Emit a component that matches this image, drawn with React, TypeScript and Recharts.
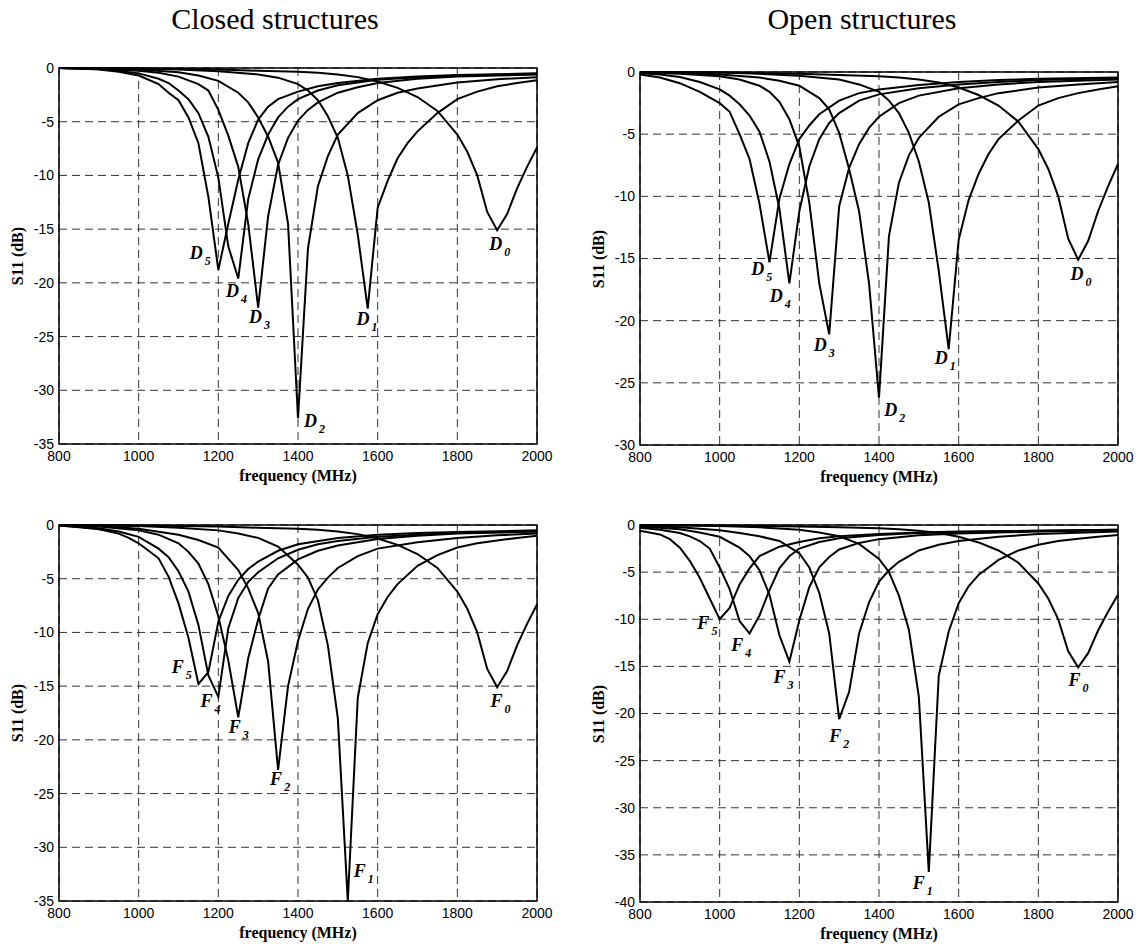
import React from "react";
import {
  LineChart,
  Line,
  XAxis,
  YAxis,
  CartesianGrid,
  ReferenceArea,
  ReferenceDot,
} from "recharts";

// frequency (MHz), S11 (dB)
const refD0 = [[800,0],[1000,-0.05],[1200,-0.15],[1300,-0.25],[1400,-0.35],[1450,-0.45],[1500,-0.6],[1550,-0.85],[1600,-1.25],[1650,-1.85],[1700,-2.7],[1750,-4.0],[1800,-6.2],[1825,-7.8],[1850,-10.0],[1875,-13.4],[1900,-15.1],[1925,-13.6],[1950,-11.2],[1975,-9.2],[2000,-7.4]];

const closedD1 = [[800,0],[1000,-0.05],[1100,-0.15],[1200,-0.3],[1300,-0.6],[1350,-0.9],[1400,-1.5],[1425,-2.1],[1450,-3.0],[1475,-4.5],[1500,-6.5],[1525,-10.0],[1550,-15.5],[1575,-22.4],[1600,-13.0],[1625,-10.5],[1650,-8.4],[1675,-7.0],[1700,-5.9],[1750,-4.2],[1800,-2.9],[1850,-2.2],[1900,-1.7],[1950,-1.4],[2000,-1.15]];
const closedD2 = [[800,0],[900,-0.05],[1000,-0.15],[1100,-0.4],[1150,-0.7],[1200,-1.2],[1250,-2.3],[1275,-3.2],[1300,-4.6],[1325,-6.4],[1350,-8.8],[1375,-14.5],[1400,-32.6],[1425,-16.8],[1450,-11.0],[1475,-8.2],[1500,-6.2],[1550,-4.2],[1600,-3.0],[1650,-2.3],[1700,-1.9],[1800,-1.35],[1900,-1.05],[2000,-0.85]];
const closedD3 = [[800,0],[900,-0.1],[1000,-0.25],[1050,-0.45],[1100,-0.8],[1150,-1.5],[1175,-2.1],[1200,-3.9],[1225,-6.3],[1250,-9.2],[1275,-14.5],[1300,-22.3],[1325,-13.8],[1350,-9.0],[1375,-6.5],[1400,-4.9],[1425,-3.9],[1450,-3.2],[1500,-2.3],[1550,-1.8],[1600,-1.4],[1700,-1.0],[1800,-0.8],[2000,-0.6]];
const closedD4 = [[800,0],[900,-0.1],[950,-0.25],[1000,-0.5],[1050,-1.0],[1075,-1.4],[1100,-2.1],[1125,-2.9],[1150,-4.2],[1175,-6.4],[1200,-10.2],[1225,-16.6],[1250,-19.6],[1275,-12.2],[1300,-8.5],[1325,-6.2],[1350,-4.6],[1375,-3.6],[1400,-2.9],[1450,-2.1],[1500,-1.6],[1600,-1.1],[1700,-0.85],[1800,-0.7],[2000,-0.55]];
const closedD5 = [[800,0],[850,-0.05],[900,-0.15],[950,-0.35],[1000,-0.7],[1050,-1.5],[1075,-2.3],[1100,-3.0],[1125,-4.6],[1150,-7.0],[1175,-12.0],[1200,-18.8],[1225,-14.5],[1250,-10.4],[1275,-7.0],[1300,-4.8],[1325,-3.6],[1350,-2.9],[1400,-2.2],[1450,-1.7],[1500,-1.4],[1600,-1.0],[1700,-0.8],[1800,-0.65],[2000,-0.5]];

const openD1 = [[800,0],[1000,-0.05],[1100,-0.15],[1200,-0.3],[1300,-0.6],[1350,-1.0],[1400,-1.6],[1425,-2.3],[1450,-3.3],[1475,-4.9],[1500,-7.2],[1525,-10.5],[1550,-16.0],[1575,-22.3],[1600,-13.5],[1625,-10.3],[1650,-8.2],[1675,-6.6],[1700,-5.4],[1750,-3.9],[1800,-2.7],[1850,-2.1],[1900,-1.7],[1950,-1.4],[2000,-1.15]];
const openD2 = [[800,0],[900,-0.05],[1000,-0.2],[1100,-0.45],[1150,-0.7],[1200,-1.1],[1250,-2.1],[1275,-3.0],[1300,-4.9],[1325,-7.8],[1350,-11.2],[1375,-17.0],[1400,-26.2],[1425,-13.2],[1450,-8.9],[1475,-6.7],[1500,-5.3],[1550,-3.6],[1600,-2.6],[1650,-2.1],[1700,-1.7],[1800,-1.25],[1900,-1.0],[2000,-0.8]];
const openD3 = [[800,-0.05],[900,-0.15],[1000,-0.35],[1050,-0.6],[1100,-1.1],[1125,-1.6],[1150,-2.4],[1175,-3.8],[1200,-6.0],[1225,-10.5],[1250,-17.0],[1275,-21.1],[1300,-10.8],[1325,-7.7],[1350,-5.8],[1375,-4.5],[1400,-3.6],[1450,-2.5],[1500,-1.9],[1600,-1.3],[1700,-1.0],[1800,-0.8],[2000,-0.6]];
const openD4 = [[800,-0.1],[850,-0.2],[900,-0.4],[950,-0.8],[1000,-1.4],[1025,-1.9],[1050,-2.6],[1075,-3.5],[1100,-4.8],[1125,-7.2],[1150,-11.0],[1175,-17.0],[1200,-11.2],[1225,-7.6],[1250,-5.4],[1275,-4.1],[1300,-3.3],[1350,-2.3],[1400,-1.8],[1500,-1.3],[1600,-1.0],[1700,-0.8],[1800,-0.65],[2000,-0.5]];
const openD5 = [[800,-0.2],[850,-0.45],[900,-0.9],[950,-1.6],[1000,-2.5],[1025,-3.2],[1050,-5.0],[1075,-7.0],[1100,-10.6],[1125,-15.3],[1150,-10.2],[1175,-7.4],[1200,-5.4],[1225,-4.3],[1250,-3.4],[1300,-2.3],[1350,-1.7],[1400,-1.4],[1500,-1.05],[1600,-0.8],[1700,-0.65],[1800,-0.55],[2000,-0.45]];

const closedF1 = [[800,0],[1000,-0.1],[1100,-0.25],[1200,-0.5],[1250,-0.8],[1300,-1.2],[1350,-2.0],[1400,-3.7],[1425,-4.9],[1450,-7.0],[1475,-11.2],[1500,-18.0],[1525,-35.0],[1550,-16.1],[1575,-11.0],[1600,-8.3],[1625,-6.7],[1650,-5.5],[1700,-3.8],[1750,-2.8],[1800,-2.1],[1850,-1.7],[1900,-1.45],[1950,-1.2],[2000,-1.0]];
const closedF2 = [[800,0],[900,-0.1],[1000,-0.35],[1100,-0.9],[1150,-1.4],[1200,-2.1],[1250,-4.2],[1275,-5.9],[1300,-8.2],[1325,-12.7],[1350,-22.8],[1375,-15.0],[1400,-10.8],[1425,-7.8],[1450,-6.0],[1475,-4.9],[1500,-4.0],[1550,-2.9],[1600,-2.2],[1700,-1.6],[1800,-1.2],[1900,-0.95],[2000,-0.8]];
const closedF3 = [[800,0],[900,-0.15],[1000,-0.5],[1050,-0.9],[1100,-1.7],[1125,-2.5],[1150,-3.6],[1175,-5.5],[1200,-8.5],[1225,-12.6],[1250,-17.9],[1275,-12.4],[1300,-8.8],[1325,-5.9],[1350,-4.6],[1400,-3.2],[1450,-2.4],[1500,-1.9],[1600,-1.3],[1700,-1.0],[1800,-0.8],[2000,-0.6]];
const closedF4 = [[800,-0.05],[900,-0.3],[950,-0.6],[1000,-1.1],[1050,-2.2],[1075,-3.0],[1100,-4.3],[1125,-6.2],[1150,-9.3],[1175,-14.0],[1200,-16.0],[1225,-9.6],[1250,-6.8],[1275,-5.3],[1300,-4.4],[1350,-3.1],[1400,-2.3],[1450,-1.8],[1500,-1.5],[1600,-1.1],[1700,-0.9],[1800,-0.75],[2000,-0.6]];
const closedF5 = [[800,-0.05],[850,-0.2],[900,-0.4],[950,-0.8],[975,-1.2],[1000,-1.7],[1025,-2.4],[1050,-3.1],[1075,-4.8],[1100,-7.3],[1125,-10.5],[1150,-14.8],[1175,-13.7],[1200,-9.0],[1225,-6.6],[1250,-5.1],[1275,-4.1],[1300,-3.4],[1350,-2.4],[1400,-1.8],[1500,-1.2],[1600,-0.9],[1700,-0.75],[1800,-0.65],[2000,-0.5]];

const openF1 = [[800,0],[1000,-0.1],[1100,-0.25],[1200,-0.5],[1250,-0.8],[1300,-1.2],[1350,-2.0],[1400,-3.6],[1425,-5.0],[1450,-7.5],[1475,-11.1],[1500,-18.2],[1525,-36.8],[1550,-16.0],[1575,-11.3],[1600,-8.3],[1625,-6.5],[1650,-5.3],[1700,-3.7],[1750,-2.7],[1800,-2.1],[1850,-1.7],[1900,-1.45],[1950,-1.25],[2000,-1.05]];
const openF2 = [[800,-0.1],[900,-0.25],[1000,-0.55],[1050,-0.85],[1100,-1.2],[1150,-1.7],[1200,-3.0],[1225,-4.5],[1250,-7.2],[1275,-11.5],[1300,-20.6],[1325,-17.7],[1350,-11.5],[1375,-8.2],[1400,-6.0],[1425,-4.8],[1450,-3.9],[1500,-2.7],[1550,-2.1],[1600,-1.7],[1700,-1.25],[1800,-0.95],[2000,-0.7]];
const openF3 = [[800,-0.15],[900,-0.45],[950,-0.8],[1000,-1.25],[1050,-2.4],[1075,-3.3],[1100,-4.8],[1125,-7.4],[1150,-11.7],[1175,-14.5],[1200,-10.1],[1225,-6.6],[1250,-4.5],[1275,-3.4],[1300,-2.6],[1350,-1.9],[1400,-1.5],[1500,-1.1],[1600,-0.9],[1800,-0.7],[2000,-0.55]];
const openF4 = [[800,-0.3],[850,-0.5],[900,-0.85],[925,-1.2],[950,-1.7],[975,-2.5],[1000,-4.5],[1025,-6.8],[1050,-10.2],[1075,-11.5],[1100,-9.6],[1125,-6.9],[1150,-4.6],[1175,-3.3],[1200,-2.5],[1250,-1.8],[1300,-1.4],[1400,-1.05],[1500,-0.85],[1600,-0.75],[1800,-0.6],[2000,-0.5]];
const openF5 = [[800,-0.6],[850,-1.0],[875,-1.5],[900,-2.4],[925,-3.8],[950,-5.6],[975,-7.8],[1000,-10.0],[1025,-8.8],[1050,-6.3],[1075,-4.6],[1100,-3.3],[1150,-2.3],[1200,-1.8],[1250,-1.4],[1300,-1.2],[1400,-0.95],[1500,-0.8],[1600,-0.7],[1800,-0.6],[2000,-0.5]];

// curve labels: subscript, frequency, dB
const closedDLabels = [["0",1880,-16.9],["1",1547,-23.9],["2",1415,-33.4],["3",1277,-23.7],["4",1219,-21.3],["5",1128,-17.8]];
const openDLabels = [["0",1881,-16.7],["1",1540,-23.5],["2",1413,-27.7],["3",1236,-22.4],["4",1126,-18.5],["5",1079,-16.3]];
const closedFLabels = [["0",1883,-16.9],["1",1540,-32.8],["2",1330,-24.2],["3",1226,-19.4],["4",1155,-16.9],["5",1083,-13.8]];
const openFLabels = [["0",1876,-17.1],["1",1485,-38.6],["2",1275,-23.0],["3",1135,-16.8],["4",1029,-13.4],["5",944,-11.0]];

const xTicks = [800, 1000, 1200, 1400, 1600, 1800, 2000];
const yTicks35 = [-35, -30, -25, -20, -15, -10, -5, 0];
const yTicks30 = [-30, -25, -20, -15, -10, -5, 0];
const yTicks40 = [-40, -35, -30, -25, -20, -15, -10, -5, 0];

const toPts = (arr: number[][]) => arr.map(([f, s]) => ({ f, s }));

const serif = "'Liberation Serif', 'Times New Roman', serif";
const sans = "'Liberation Sans', Arial, sans-serif";

type PanelProps = {
  left: number;
  top: number;
  w: number;
  h: number;
  yTicks: number[];
  curves: number[][][];
  labels: (string | number)[][];
  letter: string;
};

function Panel({ left, top, w, h, yTicks, curves, labels, letter }: PanelProps) {
  const yMin = yTicks[0];
  const padL = 60;
  const padT = 10;
  const padR = 30;
  return (
    <>
      <div style={{ position: "absolute", left: left - padL, top: top - padT }}>
        <LineChart
          width={w + padL + padR}
          height={h + padT + 50}
          margin={{ top: padT, right: padR, bottom: 0, left: 0 }}
        >
          <CartesianGrid stroke="#333" strokeDasharray="8 5" strokeWidth={1} />
          <XAxis
            dataKey="f"
            type="number"
            domain={[800, 2000]}
            ticks={xTicks}
            interval={0}
            height={50}
            axisLine={false}
            tickLine={false}
            tickSize={6}
            tickMargin={1}
            tick={{ fontFamily: sans, fontSize: 14, fill: "#000" }}
          />
          <YAxis
            type="number"
            domain={[yMin, 0]}
            ticks={yTicks}
            interval={0}
            width={padL}
            axisLine={false}
            tickLine={false}
            tickSize={4}
            tickMargin={1}
            tick={{ fontFamily: sans, fontSize: 14, fill: "#000" }}
          />
          <ReferenceArea
            x1={800}
            x2={2000}
            y1={yMin}
            y2={0}
            fill="none"
            fillOpacity={0}
            stroke="#000"
            strokeWidth={1.5}
          />
          {curves.map((c, i) => (
            <Line
              key={i}
              data={toPts(c)}
              dataKey="s"
              type="linear"
              stroke="#000"
              strokeWidth={2}
              dot={false}
              activeDot={false}
              isAnimationActive={false}
            />
          ))}
          {labels.map(([sub, f, s]) => (
            <ReferenceDot
              key={String(sub)}
              x={f as number}
              y={s as number}
              r={0}
              shape={(p: any) => (
                <text
                  x={p.cx}
                  y={p.cy}
                  fontFamily={serif}
                  fontWeight="bold"
                  fontStyle="italic"
                  fontSize={18}
                  fill="#000"
                >
                  {letter}
                  <tspan dx={2} dy={6} fontSize={12}>
                    {sub}
                  </tspan>
                </text>
              )}
            />
          ))}
        </LineChart>
      </div>
      <div
        style={{
          position: "absolute",
          left: left - 41,
          top: top + h / 2,
          transform: "translate(-50%, -50%) rotate(-90deg)",
          fontFamily: serif,
          fontWeight: "bold",
          fontSize: 16,
          whiteSpace: "nowrap",
        }}
      >
        S11 (dB)
      </div>
      <div
        style={{
          position: "absolute",
          left: left + w / 2,
          top: top + h + 32,
          transform: "translate(-50%, -50%)",
          fontFamily: serif,
          fontWeight: "bold",
          fontSize: 16,
          whiteSpace: "nowrap",
        }}
      >
        frequency (MHz)
      </div>
    </>
  );
}

export default function App() {
  return (
    <div
      style={{
        position: "absolute",
        left: 0,
        top: 0,
        width: 1143,
        height: 944,
        background: "#fff",
        color: "#000",
      }}
    >
      <div
        style={{
          position: "absolute",
          left: 275,
          top: 4,
          transform: "translateX(-50%)",
          fontFamily: serif,
          fontSize: 30,
          lineHeight: "30px",
          whiteSpace: "nowrap",
        }}
      >
        Closed structures
      </div>
      <div
        style={{
          position: "absolute",
          left: 862,
          top: 4,
          transform: "translateX(-50%)",
          fontFamily: serif,
          fontSize: 30,
          lineHeight: "30px",
          whiteSpace: "nowrap",
        }}
      >
        Open structures
      </div>
      <Panel
        left={59}
        top={68}
        w={478}
        h={376}
        yTicks={yTicks35}
        curves={[refD0, closedD1, closedD2, closedD3, closedD4, closedD5]}
        labels={closedDLabels}
        letter="D"
      />
      <Panel
        left={640}
        top={72}
        w={478}
        h={373}
        yTicks={yTicks30}
        curves={[refD0, openD1, openD2, openD3, openD4, openD5]}
        labels={openDLabels}
        letter="D"
      />
      <Panel
        left={59}
        top={525}
        w={478}
        h={376}
        yTicks={yTicks35}
        curves={[refD0, closedF1, closedF2, closedF3, closedF4, closedF5]}
        labels={closedFLabels}
        letter="F"
      />
      <Panel
        left={640}
        top={525}
        w={478}
        h={377}
        yTicks={yTicks40}
        curves={[refD0, openF1, openF2, openF3, openF4, openF5]}
        labels={openFLabels}
        letter="F"
      />
    </div>
  );
}
